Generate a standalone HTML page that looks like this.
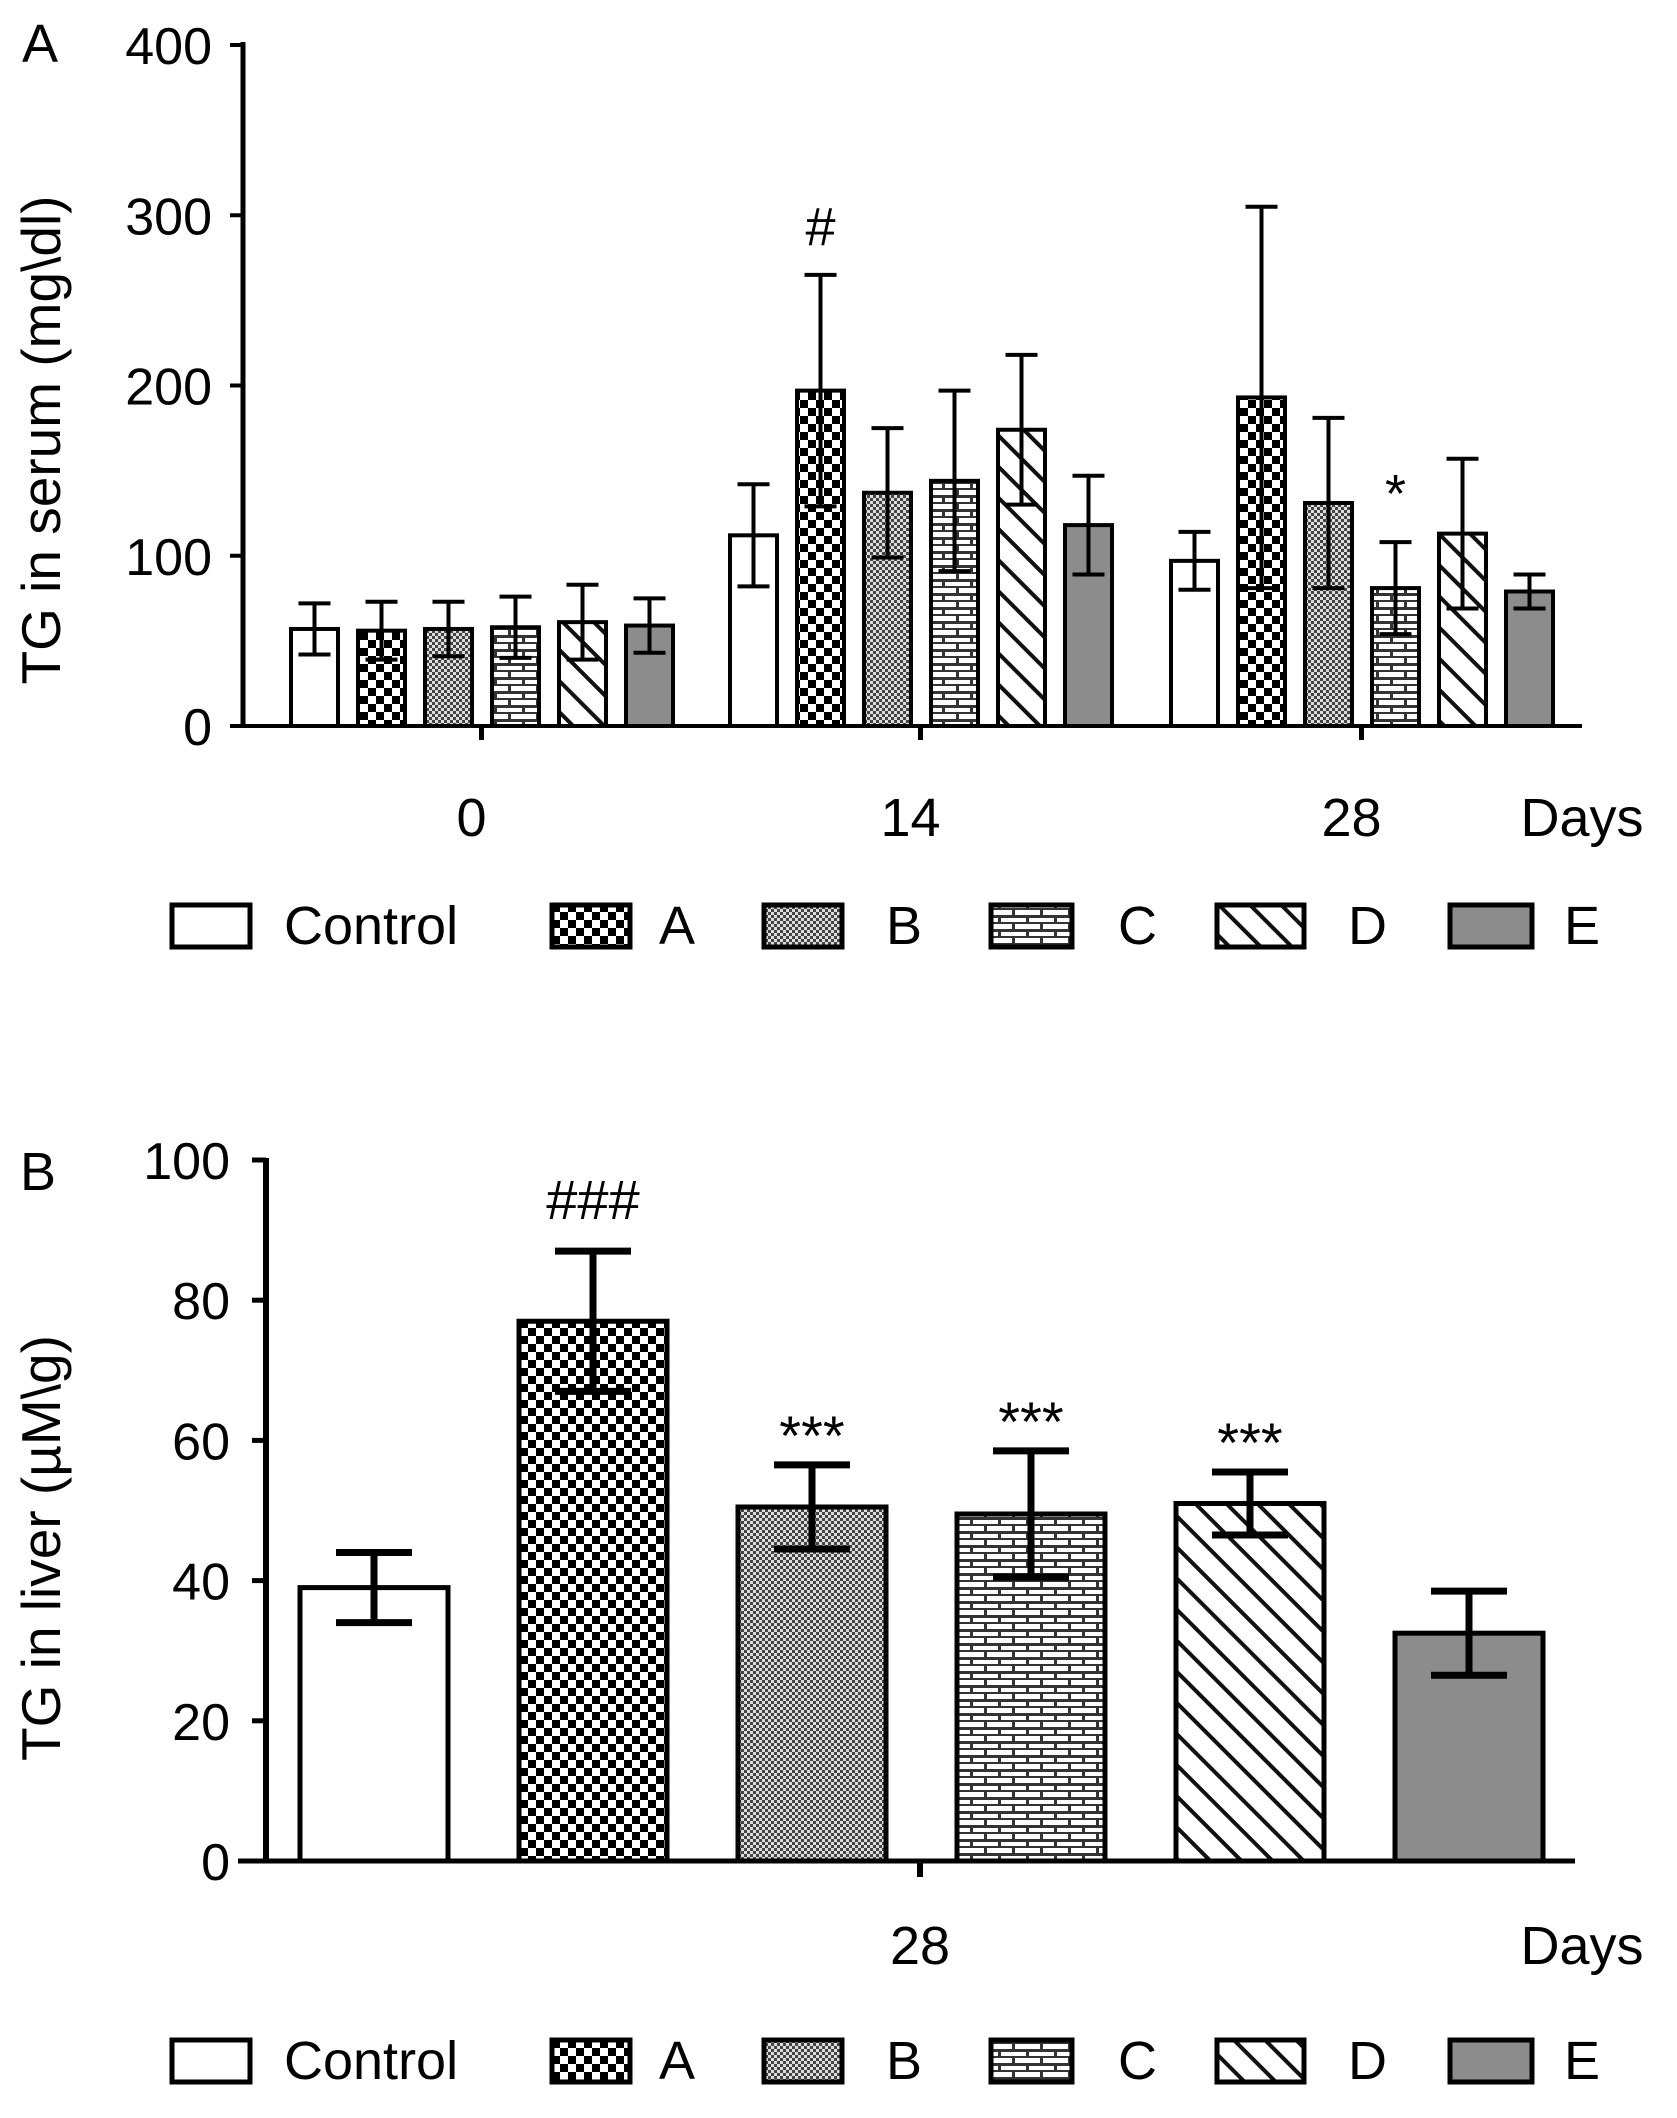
<!DOCTYPE html>
<html><head><meta charset="utf-8"><style>
html,body{margin:0;padding:0;background:#fff;}
svg{display:block;font-family:"Liberation Sans",Arial,sans-serif;}
</style></head><body>
<svg id="fig" width="1677" height="2118" viewBox="0 0 1677 2118" xmlns="http://www.w3.org/2000/svg">
<defs>
<pattern id="pA" width="16" height="16" patternUnits="userSpaceOnUse"><rect width="16" height="16" fill="#fff"/><rect width="8" height="8" fill="#000"/><rect x="8" y="8" width="8" height="8" fill="#000"/></pattern>
<pattern id="pB" width="6" height="6" patternUnits="userSpaceOnUse"><rect width="6" height="6" fill="#ddd"/><rect width="3" height="3" fill="#444"/><rect x="3" y="3" width="3" height="3" fill="#444"/></pattern>
<pattern id="pC" width="28" height="14" patternUnits="userSpaceOnUse"><rect width="28" height="14" fill="#fff"/><rect y="5" width="28" height="3" fill="#333"/><rect y="12" width="28" height="2" fill="#333"/><rect x="4" y="0" width="3" height="6" fill="#333"/><rect x="18" y="7" width="3" height="6" fill="#333"/></pattern>
<pattern id="pD" width="22" height="22" patternUnits="userSpaceOnUse" patternTransform="rotate(-45)"><rect width="22" height="22" fill="#fff"/><rect width="4" height="22" fill="#111"/></pattern>
</defs>
<g id="chartA"></g>
<g id="chartB"></g>
</svg>
<script>
const groupNames=["Control","A","B","C","D","E"];
const fills=["#fff","url(#pA)","url(#pB)","url(#pC)","url(#pD)","#8c8c8c"];
const daysA=["0","14","28"];
const serumMeans=[[57,56,57,58,61,59],[112,197,137,144,174,118],[97,193,131,81,113,79]];
const serumErr=[[15,17,16,18,22,16],[30,68,38,53,44,29],[17,112,50,27,44,10]];
const serumAnnot=[["","","","","",""],["","#","","","",""],["","","","*","",""]];
const ticksA=[0,100,200,300,400];
const liverMeans=[39,77,50.5,49.5,51,32.5];
const liverErr=[5,10,6,9,4.5,6];
const liverAnnot=["","###","***","***","***",""];
const ticksB=[0,20,40,60,80,100];
const NS="http://www.w3.org/2000/svg";
function mk(p,t,a){const e=document.createElementNS(NS,t);for(const k in a)e.setAttribute(k,a[k]);p.appendChild(e);return e;}
const yA=v=>726-v*1.7025;
const yB=v=>1861-v*7.01;
const gA=document.getElementById('chartA');
const gB=document.getElementById('chartB');
const groupStart=[291,730,1171];
// Panel A
let t=mk(gA,'text',{x:40,y:62,'font-size':54,'text-anchor':'middle'});t.textContent='A';


let ax=mk(gA,'line',{x1:243,y1:42,x2:243,y2:728,stroke:'#000','stroke-width':5});


ax=mk(gA,'line',{x1:241,y1:726,x2:1582,y2:726,stroke:'#000','stroke-width':4});


ticksA.forEach(v=>{
 mk(gA,'line',{x1:230,y1:yA(v),x2:243,y2:yA(v),stroke:'#000','stroke-width':4});
 const l=mk(gA,'text',{x:212,y:yA(v)+19,'font-size':52,'text-anchor':'end'});l.textContent=v;
 
 
});
t=mk(gA,'text',{x:0,y:0,'font-size':55,'text-anchor':'middle',transform:'translate(60,440) rotate(-90)'});t.textContent='TG in serum (mg\\dl)';


daysA.forEach((d,gi)=>{
 const cx=groupStart[gi]+2.5*67+23;
 mk(gA,'line',{x1:cx,y1:726,x2:cx,y2:740,stroke:'#000','stroke-width':5});
 const l=mk(gA,'text',{x:cx-10,y:836,'font-size':54,'text-anchor':'middle'});l.textContent=d;
 
 
 serumMeans[gi].forEach((v,i)=>{
  const x=groupStart[gi]+i*67,w=47,xc=x+w/2;
  const b=mk(gA,'rect',{x:x,y:yA(v),width:w,height:726-yA(v),fill:fills[i],stroke:'#000','stroke-width':4});
  
  
  const e=serumErr[gi][i];
  const eb=mk(gA,'path',{d:`M${xc},${yA(v-e)}V${yA(v+e)}M${xc-16},${yA(v+e)}H${xc+16}M${xc-16},${yA(v-e)}H${xc+16}`,stroke:'#000','stroke-width':4,fill:'none'});
  
  
  if(serumAnnot[gi][i]){const s=mk(gA,'text',{x:xc,y:yA(v+e)-30,'font-size':54,'text-anchor':'middle'});s.textContent=serumAnnot[gi][i];
   
   }
 });
});
t=mk(gA,'text',{x:1582,y:836,'font-size':54,'text-anchor':'middle'});t.textContent='Days';


const legX=[172,552,764,991,1217,1450],legTX=[284,659,886,1118,1348,1582],legW=[78,78,78,81,87,82];
function legend(g,y){
 groupNames.forEach((n,i)=>{
  const r=mk(g,'rect',{x:legX[i],y:y-20,width:legW[i],height:42,fill:fills[i],stroke:'#000','stroke-width':5});
  
  
  const l=mk(g,'text',{x:legTX[i],y:y+19,'font-size':54,'text-anchor':i==5?'middle':'start'});l.textContent=n;
  
  
 });
}
legend(gA,925);
// Panel B
t=mk(gB,'text',{x:38,y:1190,'font-size':54,'text-anchor':'middle'});t.textContent='B';


ax=mk(gB,'line',{x1:266,y1:1158,x2:266,y2:1863,stroke:'#000','stroke-width':6});


ax=mk(gB,'line',{x1:238,y1:1861,x2:1575,y2:1861,stroke:'#000','stroke-width':5});


ticksB.forEach(v=>{
 mk(gB,'line',{x1:252,y1:yB(v),x2:266,y2:yB(v),stroke:'#000','stroke-width':5});
 const l=mk(gB,'text',{x:230,y:yB(v)+19,'font-size':52,'text-anchor':'end'});l.textContent=v;
 
 
});
t=mk(gB,'text',{x:0,y:0,'font-size':55,'text-anchor':'middle',transform:'translate(60,1548) rotate(-90)'});t.textContent='TG in liver (µM\\g)';


mk(gB,'line',{x1:920,y1:1861,x2:920,y2:1877,stroke:'#000','stroke-width':6});
t=mk(gB,'text',{x:920,y:1964,'font-size':54,'text-anchor':'middle'});t.textContent='28';


t=mk(gB,'text',{x:1582,y:1964,'font-size':54,'text-anchor':'middle'});t.textContent='Days';


liverMeans.forEach((v,i)=>{
 const x=300+i*219,w=148,xc=x+w/2;
 const b=mk(gB,'rect',{x:x,y:yB(v),width:w,height:1861-yB(v),fill:fills[i],stroke:'#000','stroke-width':5});
 
 
 const e=liverErr[i];
 const eb=mk(gB,'path',{d:`M${xc},${yB(v-e)}V${yB(v+e)}M${xc-38},${yB(v+e)}H${xc+38}M${xc-38},${yB(v-e)}H${xc+38}`,stroke:'#000','stroke-width':7,fill:'none'});
 
 
 if(liverAnnot[i]){const s=mk(gB,'text',{x:xc,y:yB(v+e)-(liverAnnot[i]=='###'?32:10),'font-size':56,'text-anchor':'middle'});s.textContent=liverAnnot[i];
  
  }
});
legend(gB,2060);
</script>
</body></html>
